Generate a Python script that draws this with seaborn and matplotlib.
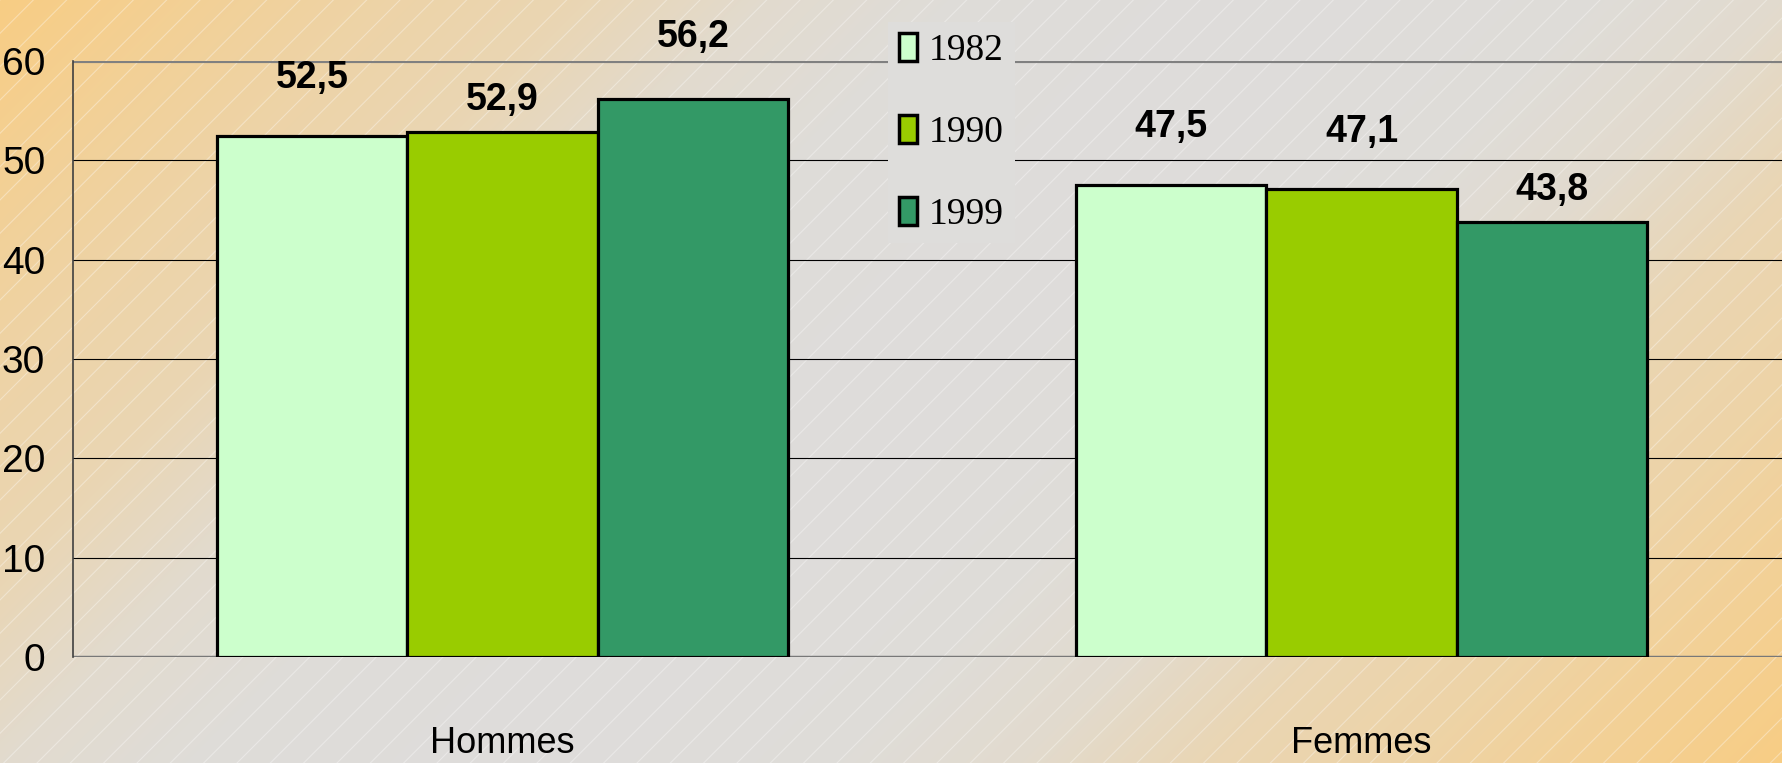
import matplotlib
matplotlib.use("Agg")
import matplotlib.pyplot as plt
from matplotlib.patches import Patch, Rectangle
import seaborn as sns
import numpy as np
import pandas as pd

# Data
sexes = ["Hommes", "Femmes"]
annees = ["1982", "1990", "1999"]
val_1982 = [52.5, 47.5]
val_1990 = [52.9, 47.1]
val_1999 = [56.2, 43.8]
y_ticks = [0, 10, 20, 30, 40, 50, 60]

couleurs = ["#CCFFCC", "#99CC00", "#339966"]
# gap (px) between bar top and label, per year then per sex (as in the original)
label_gap = [[48, 48], [22, 47], [52, 22]]

df = pd.DataFrame({
    "sexe": sexes * 3,
    "annee": [a for a in annees for _ in sexes],
    "valeur": val_1982 + val_1990 + val_1999,
})

sns.set_style("white")
sans = ["Liberation Sans Narrow", "Liberation Sans", "DejaVu Sans"]
serif = ["Liberation Serif", "DejaVu Serif"]
plt.rcParams["font.family"] = sans
plt.rcParams["text.color"] = "black"
plt.rcParams["xtick.labelcolor"] = "black"
plt.rcParams["ytick.labelcolor"] = "black"
plt.rcParams["hatch.linewidth"] = 0.8

W, H = 1783, 763
fig = plt.figure(figsize=(W / 100, H / 100), dpi=100)

# background: diagonal orange - gray - orange gradient with faint hatching
bg = fig.add_axes([0, 0, 1, 1], zorder=-10)
xx, yy = np.meshgrid(np.arange(W), np.arange(H))
d = np.abs((xx + yy) / (W + H) - 0.5) / 0.5
f = np.interp(d, [0, 0.25, 0.4, 0.55, 0.7, 1.0], [0, 0.03, 0.15, 0.46, 0.6, 1.0])
gray = np.array([222, 221, 219]) / 255
orange = np.array([248, 205, 132]) / 255
img = gray[None, None, :] + (orange - gray)[None, None, :] * f[..., None]
bg.imshow(img, aspect="auto", extent=[0, 1, 0, 1], origin="upper")
bg.add_patch(Rectangle((0, 0), 1, 1, facecolor="none",
                       edgecolor=(1, 1, 1, 0.35), linewidth=0, hatch="/"))
bg.set_xlim(0, 1)
bg.set_ylim(0, 1)
bg.axis("off")

ax = fig.add_axes([73 / W, 1 - 657 / H, (1791 - 73) / W, (657 - 61) / H])
ax.set_facecolor("none")

sns.barplot(data=df, x="sexe", y="valeur", hue="annee", order=sexes,
            hue_order=annees, palette=couleurs, width=0.665, gap=0,
            edgecolor="black", linewidth=2.3, saturation=1, ax=ax,
            legend=False)

# value labels with decimal comma
for i, cont in enumerate(ax.containers):
    for j, bar in enumerate(cont):
        h = bar.get_height()
        ax.annotate(f"{h:.1f}".replace(".", ","),
                    (bar.get_x() + bar.get_width() / 2, h),
                    xytext=(0, label_gap[i][j] * 0.72), textcoords="offset points",
                    ha="center", va="baseline", fontsize=27,
                    fontweight="bold", clip_on=False)

ax.set_xlim(-0.5, 1.5)
ax.set_ylim(0, 60)
ax.set_yticks(y_ticks)
ax.set_xlabel("")
ax.set_ylabel("")
ax.set_axisbelow(True)
ax.yaxis.grid(True, color="black", linewidth=0.8)
ax.axhline(60, color="#808080", linewidth=3, zorder=0.8)
ax.axhline(0, color="#808080", linewidth=2.5, zorder=0.4)

for side in ["top", "right", "bottom"]:
    ax.spines[side].set_visible(False)
ax.spines["left"].set_color("#404040")
ax.spines["left"].set_linewidth(1.2)

ax.tick_params(axis="y", length=8, width=1, color="black", pad=12, labelsize=28)
ax.tick_params(axis="x", which="major", length=0, pad=50, labelsize=26)
ax.set_xticks([-0.5, 0.5, 1.5], minor=True)
ax.tick_params(axis="x", which="minor", length=12, width=1, color="#404040",
               direction="out")

handles = [Patch(facecolor=c, edgecolor="black", linewidth=2.5) for c in couleurs]
leg = ax.legend(handles, annees, loc="upper left",
                bbox_to_anchor=(888 / W, 1 - 22 / H), bbox_transform=fig.transFigure,
                borderaxespad=0, borderpad=0.3, frameon=True, fancybox=False,
                handlelength=0.48, handleheight=0.77, handletextpad=0.3,
                labelspacing=1.25, prop={"family": serif, "size": 27})
leg.get_frame().set_facecolor("#DEDDDB")
leg.get_frame().set_edgecolor("none")
leg.get_frame().set_alpha(1)

fig.savefig("out.png", dpi=100)
